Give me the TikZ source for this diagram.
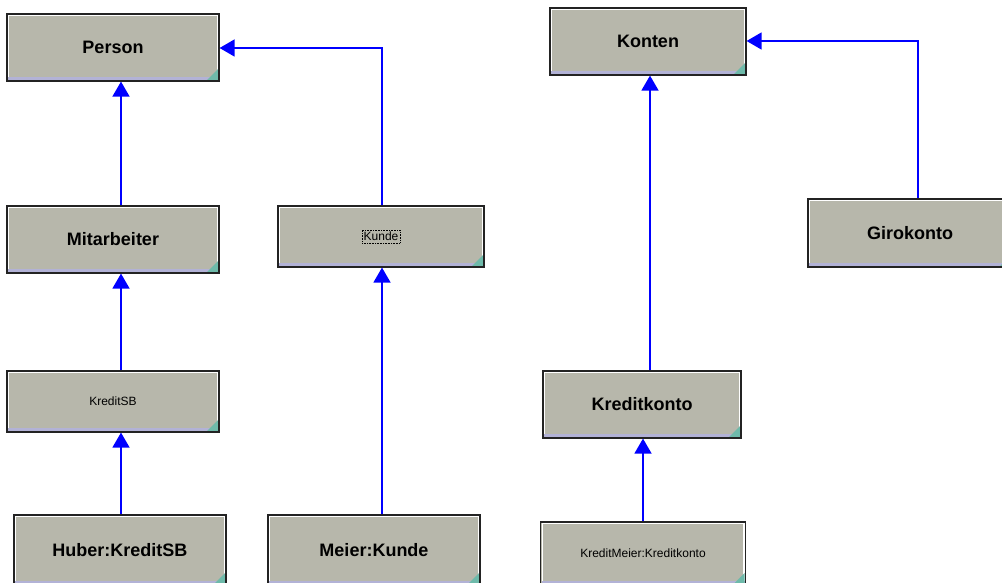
\documentclass[tikz,border=0pt]{standalone}
\usepackage{fontspec}
\setmainfont{Liberation Sans}
\usetikzlibrary{arrows.meta}
\definecolor{boxfill}{RGB}{183,183,171}
\definecolor{boxedge}{RGB}{35,35,35}
\definecolor{boxbase}{RGB}{178,178,214}
\definecolor{cornertint}{RGB}{110,186,170}
\definecolor{linkblue}{RGB}{0,0,255}
\tikzset{
  classbox/.style={
    draw=boxedge, line width=1.2pt, fill=boxfill, inner sep=0pt,
    anchor=center,
    path picture={
      \draw[white, line width=1.2pt]
        ([xshift=1.6pt,yshift=-3pt]path picture bounding box.south west)
        -- ([xshift=1.6pt,yshift=-1.6pt]path picture bounding box.north west)
        -- ([xshift=-1.6pt,yshift=-1.6pt]path picture bounding box.north east)
        -- ([xshift=-1.6pt,yshift=-3pt]path picture bounding box.south east);
      \fill[boxbase]
        ([xshift=1pt,yshift=1pt]path picture bounding box.south west)
        rectangle ([xshift=-1pt,yshift=4pt]path picture bounding box.south east);
      \fill[cornertint]
        ([xshift=-1pt,yshift=1pt]path picture bounding box.south east)
        -- ++(-11pt,0) -- ++(11pt,11pt) -- cycle;
    }},
  boldlabel/.style={font=\fontsize{18}{21}\selectfont\bfseries},
  smalllabel/.style={font=\fontsize{12}{14}\selectfont},
  link/.style={draw=linkblue, line width=1.6pt,
    -{Triangle[width=17pt,length=15pt]}},
  focusbox/.style={draw=black, densely dotted, line width=0.6pt,
    inner xsep=1.5pt, inner ysep=2pt, font=\fontsize{12}{14}\selectfont}
}
\begin{document}
\begin{tikzpicture}[x=1pt,y=-1pt]
\useasboundingbox[fill=white] (0,0) rectangle (1002,583);

% left hierarchy: persons
\node[classbox, boldlabel, minimum width=212pt, minimum height=67pt] (person) at (113,47.5) {Person};
\node[classbox, boldlabel, minimum width=212pt, minimum height=67pt] (mitarbeiter) at (113,239.5) {Mitarbeiter};
\node[classbox, smalllabel, minimum width=212pt, minimum height=61pt] (kreditsb) at (113,401.5) {KreditSB};
\node[classbox, boldlabel, minimum width=212pt, minimum height=70pt] (huber) at (120,550) {Huber:KreditSB};
\node[classbox, minimum width=206pt, minimum height=61pt] (kunde) at (381,236.5) {};
\node[focusbox] (kundelabel) at (kunde.center) {Kunde};
\node[classbox, boldlabel, minimum width=212pt, minimum height=70pt] (meier) at (374,550) {Meier:Kunde};

% right hierarchy: accounts
\node[classbox, boldlabel, minimum width=196pt, minimum height=67pt] (konten) at (648,41.5) {Konten};
\node[classbox, boldlabel, minimum width=204pt, minimum height=68pt] (giro) at (910,233) {Girokonto};
\node[classbox, boldlabel, minimum width=198pt, minimum height=67pt] (kreditkonto) at (642,404.5) {Kreditkonto};
\node[classbox, smalllabel, minimum width=205pt, minimum height=63pt] (kreditmeier) at (643,553.5) {KreditMeier:Kreditkonto};

% generalisation links
\coordinate (kundebend) at (382,48);
\coordinate (girobend) at (918,41);
\draw[link] ([xshift=8pt]mitarbeiter.north) -- ([xshift=8pt]person.south);
\draw[link] ([xshift=8pt]kreditsb.north) -- ([xshift=8pt]mitarbeiter.south);
\draw[link] ([xshift=1pt]huber.north) -- ([xshift=1pt]huber.north |- kreditsb.south);
\draw[link] ([xshift=1pt]kunde.north) -- (kundebend) -- (kundebend -| person.east);
\draw[link] ([xshift=8pt]meier.north) -- ([xshift=8pt]meier.north |- kunde.south);
\draw[link] ([xshift=8pt]kreditkonto.north) -- ([xshift=8pt]kreditkonto.north |- konten.south);
\draw[link] (kreditmeier.north) -- (kreditmeier.north |- kreditkonto.south);
\draw[link] ([xshift=8pt]giro.north) -- (girobend) -- (girobend -| konten.east);
\end{tikzpicture}
\end{document}
